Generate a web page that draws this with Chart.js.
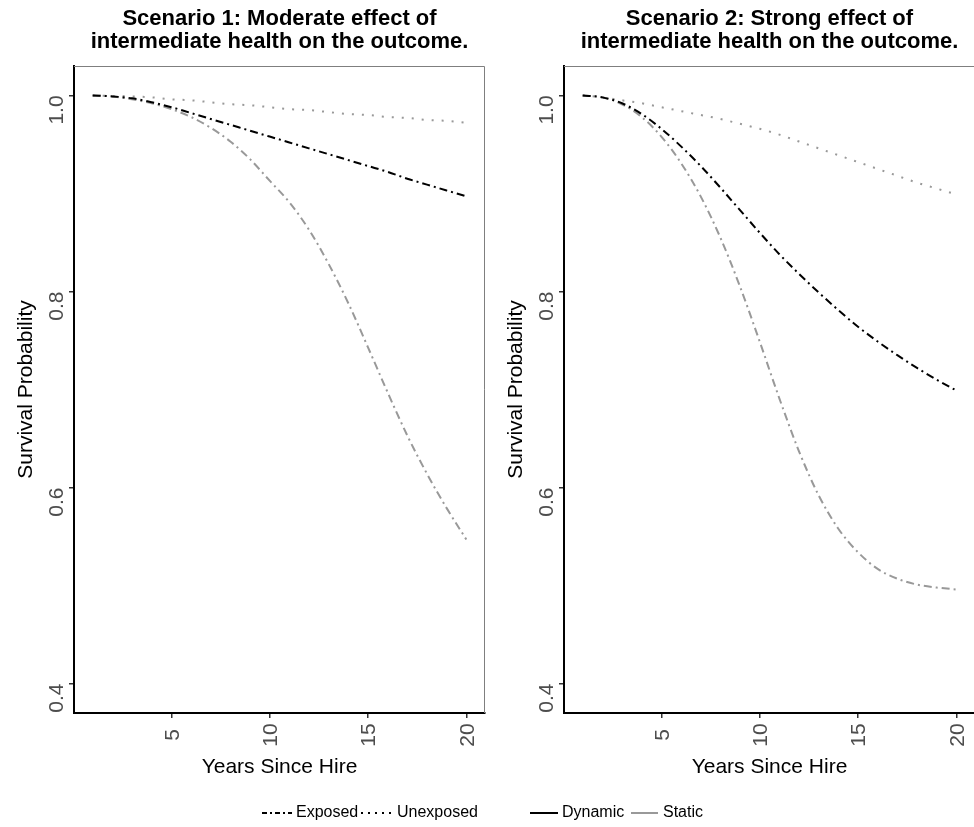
<!DOCTYPE html>
<html>
<head>
<meta charset="utf-8">
<script src="https://cdn.jsdelivr.net/npm/chart.js@4.4.1/dist/chart.umd.min.js"></script>
<style>
  html, body { margin: 0; padding: 0; background: #fff; overflow: hidden; }
  #wrap { position: relative; width: 974px; height: 827px; overflow: hidden; }
  canvas { position: absolute; top: 0; }
</style>
</head>
<body>
<div id="wrap">
  <canvas id="chart1" width="487" height="790" style="left:0px"></canvas>
  <canvas id="chart2" width="490" height="790" style="left:490px"></canvas>
  <canvas id="legend" width="974" height="32" style="left:0px; top:795px"></canvas>
</div>
<script>
// Jahre seit Einstellung
const years = [1, 2, 3, 4, 5, 6, 7, 8, 9, 10, 11, 12, 13, 14, 15, 16, 17, 18, 19, 20];

// Szenario 1
const s1Dynamic   = [1.000, 0.999, 0.997, 0.993, 0.988, 0.982, 0.976, 0.970, 0.964, 0.958, 0.952, 0.946, 0.940, 0.934, 0.928, 0.922, 0.915, 0.909, 0.903, 0.897];
const s1Static    = [1.000, 0.999, 0.996, 0.992, 0.986, 0.978, 0.967, 0.953, 0.935, 0.913, 0.891, 0.863, 0.828, 0.788, 0.743, 0.697, 0.653, 0.614, 0.579, 0.547];
const s1Unexposed = [1.000, 0.9995, 0.999, 0.998, 0.996, 0.995, 0.993, 0.991, 0.990, 0.988, 0.986, 0.985, 0.983, 0.981, 0.980, 0.978, 0.977, 0.975, 0.974, 0.972];

// Szenario 2
const s2Dynamic   = [1.000, 0.998, 0.992, 0.981, 0.966, 0.948, 0.928, 0.906, 0.883, 0.860, 0.838, 0.818, 0.799, 0.781, 0.764, 0.749, 0.735, 0.722, 0.710, 0.699];
const s2Static    = [1.000, 0.998, 0.991, 0.978, 0.958, 0.931, 0.897, 0.855, 0.805, 0.749, 0.691, 0.637, 0.592, 0.558, 0.534, 0.517, 0.507, 0.501, 0.498, 0.496];
const s2Unexposed = [1.000, 0.998, 0.995, 0.992, 0.988, 0.984, 0.980, 0.976, 0.971, 0.966, 0.960, 0.953, 0.946, 0.939, 0.932, 0.925, 0.918, 0.911, 0.905, 0.899];

// Achsen
const xTicks = [5, 10, 15, 20];
const yTicks = [0.4, 0.6, 0.8, 1.0];
const title1 = ['Scenario 1: Moderate effect of', 'intermediate health on the outcome.'];
const title2 = ['Scenario 2: Strong effect of', 'intermediate health on the outcome.'];

const FONT = '"Liberation Sans", Arial, Helvetica, sans-serif';
const GREY = '#999999';

const toPoints = (vals) => vals.map((v, i) => ({ x: years[i], y: v }));

// Achsenbeschriftungen (gedreht) und Rahmen
const axisText = {
    id: 'axisText',
    afterDraw(chart) {
        const { ctx, chartArea: a, scales: { x, y } } = chart;
        ctx.save();

        // Rahmen oben und rechts
        ctx.strokeStyle = '#7f7f7f';
        ctx.lineWidth = 1;
        ctx.beginPath();
        ctx.moveTo(a.left, a.top + 0.5);
        ctx.lineTo(a.right - 0.5, a.top + 0.5);
        ctx.lineTo(a.right - 0.5, a.bottom);
        ctx.stroke();

        ctx.fillStyle = '#4d4d4d';
        ctx.font = '21px ' + FONT;

        y.ticks.forEach(t => {
            const py = y.getPixelForValue(t.value);
            ctx.save();
            ctx.translate(a.left - 11, py);
            ctx.rotate(-Math.PI / 2);
            ctx.textAlign = 'right';
            ctx.textBaseline = 'alphabetic';
            ctx.fillText(t.value.toFixed(1), 0, 0);
            ctx.restore();
        });

        x.ticks.forEach(t => {
            const px = x.getPixelForValue(t.value);
            ctx.save();
            ctx.translate(px + 7.5, a.bottom + 22);
            ctx.rotate(-Math.PI / 2);
            ctx.textAlign = 'center';
            ctx.textBaseline = 'alphabetic';
            ctx.fillText(String(t.value), 0, 0);
            ctx.restore();
        });

        ctx.fillStyle = '#000';
        ctx.textAlign = 'center';
        ctx.textBaseline = 'middle';
        ctx.fillText('Years Since Hire', (a.left + a.right) / 2, a.bottom + 54);

        ctx.save();
        ctx.translate(a.left - 48, (a.top + a.bottom) / 2);
        ctx.rotate(-Math.PI / 2);
        ctx.fillText('Survival Probability', 0, 0);
        ctx.restore();

        ctx.restore();
    }
};

const makeChart = (id, titleLines, dyn, stat, unexp, padRight) => {
    const ctx = document.getElementById(id).getContext('2d');
    return new Chart(ctx, {
        type: 'line',
        data: {
            datasets: [
                { label: 'Exposed Dynamic', data: toPoints(dyn), borderColor: '#000', borderWidth: 2, borderDash: [8, 4, 2, 4] },
                { label: 'Exposed Static', data: toPoints(stat), borderColor: GREY, borderWidth: 2, borderDash: [8, 4, 2, 4] },
                { label: 'Unexposed', data: toPoints(unexp), borderColor: GREY, borderWidth: 2, borderDash: [2, 8] }
            ]
        },
        options: {
            responsive: false,
            devicePixelRatio: 1,
            animation: false,
            layout: { padding: { top: 0, left: 0, bottom: 0, right: padRight } },
            elements: {
                point: { radius: 0 },
                line: { cubicInterpolationMode: 'monotone', fill: false, borderCapStyle: 'butt' }
            },
            plugins: {
                legend: { display: false },
                tooltip: { enabled: false },
                title: {
                    display: true,
                    text: titleLines,
                    fullSize: false,
                    color: '#000',
                    font: { family: FONT, size: 22, weight: 'bold', lineHeight: 1.05 },
                    padding: { top: 7, bottom: 12.8 }
                }
            },
            scales: {
                x: {
                    type: 'linear',
                    min: 0.05,
                    max: 20.95,
                    afterBuildTicks: (s) => { s.ticks = xTicks.map(v => ({ value: v })); },
                    afterFit: (s) => { s.height = 77; },
                    ticks: { display: false },
                    grid: { drawOnChartArea: false, drawTicks: true, tickLength: 5, color: '#333', lineWidth: 1.5 },
                    border: { display: true, color: '#000', width: 2 }
                },
                y: {
                    type: 'linear',
                    min: 0.37,
                    max: 1.03,
                    afterBuildTicks: (s) => { s.ticks = yTicks.map(v => ({ value: v })); },
                    afterFit: (s) => { s.width = 74; },
                    ticks: { display: false },
                    grid: { drawOnChartArea: false, drawTicks: true, tickLength: 5, color: '#333', lineWidth: 1.5 },
                    border: { display: true, color: '#000', width: 2 }
                }
            }
        },
        plugins: [axisText]
    });
};

document.addEventListener('DOMContentLoaded', () => {
    makeChart('chart1', title1, s1Dynamic, s1Static, s1Unexposed, 2);
    makeChart('chart2', title2, s2Dynamic, s2Static, s2Unexposed, 5);

    // Legende (Linientyp und Farbe)
    const lg = document.getElementById('legend').getContext('2d');
    const cy = 18;
    const key = (x0, x1, color, dash) => {
        lg.save();
        lg.strokeStyle = color;
        lg.lineWidth = 2;
        lg.setLineDash(dash);
        lg.beginPath();
        lg.moveTo(x0, cy);
        lg.lineTo(x1, cy);
        lg.stroke();
        lg.restore();
    };
    lg.font = '16px ' + FONT;
    lg.fillStyle = '#000';
    lg.textBaseline = 'middle';

    key(262, 292, '#000', [5, 3, 2, 3]);
    lg.fillText('Exposed', 296, cy);
    key(361, 391, '#000', [2, 5]);
    lg.fillText('Unexposed', 397, cy);
    key(530, 558, '#000', []);
    lg.fillText('Dynamic', 562, cy);
    key(631, 658, GREY, []);
    lg.fillText('Static', 663, cy);
});
</script>
</body>
</html>
